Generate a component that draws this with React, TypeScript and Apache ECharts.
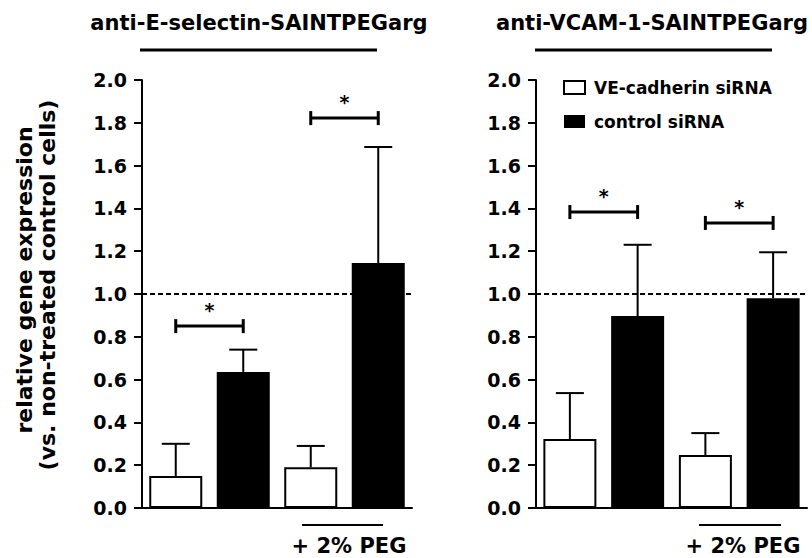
import React, { useEffect, useRef } from "react";
import * as echarts from "echarts";

const categories = ["VE-cadherin", "control", "VE-cadherin + PEG", "control + PEG"];
const seriesNames = ["VE-cadherin siRNA", "control siRNA"];
const titles = ["anti-E-selectin-SAINTPEGarg", "anti-VCAM-1-SAINTPEGarg"];
const yTicks = [0, 0.2, 0.4, 0.6, 0.8, 1.0, 1.2, 1.4, 1.6, 1.8, 2.0];
const yAxisName = ["relative gene expression", "(vs. non-treated control cells)"];
const pegLabel = "+ 2% PEG";

// left panel (anti-E-selectin)
const leftMeans = [0.15, 0.636, 0.19, 1.145];
const leftUpper = [0.30, 0.74, 0.29, 1.687];
const leftBrackets = [
  [0, 1, 0.85],
  [2, 3, 1.822],
];
// right panel (anti-VCAM-1)
const rightMeans = [0.322, 0.897, 0.248, 0.98];
const rightUpper = [0.537, 1.23, 0.35, 1.195];
const rightBrackets = [
  [0, 1, 1.383],
  [2, 3, 1.332],
];
const referenceLevel = 1.0;

const FONT = "DejaVu Sans";

function pick(arr: number[], idx: number[]) {
  return arr.map((v, i) => (idx.includes(i) ? v : null));
}

function errorSeries(axis: number, means: number[], upper: number[]) {
  return {
    type: "custom",
    xAxisIndex: axis,
    yAxisIndex: axis,
    z: 5,
    silent: true,
    data: means.map((m, i) => [i, m, upper[i]]),
    renderItem: (params: any, api: any) => {
      const x = api.value(0);
      const p0 = api.coord([x, api.value(1)]);
      const p1 = api.coord([x, api.value(2)]);
      const half = 14;
      return {
        type: "group",
        children: [
          { type: "line", shape: { x1: p0[0], y1: p0[1], x2: p1[0], y2: p1[1] }, style: { stroke: "#000", lineWidth: 2 } },
          { type: "line", shape: { x1: p1[0] - half, y1: p1[1], x2: p1[0] + half, y2: p1[1] }, style: { stroke: "#000", lineWidth: 2 } },
        ],
      };
    },
  };
}

function bracketSeries(axis: number, brackets: number[][]) {
  return {
    type: "custom",
    xAxisIndex: axis,
    yAxisIndex: axis,
    z: 6,
    silent: true,
    data: brackets,
    renderItem: (params: any, api: any) => {
      const a = api.coord([api.value(0), api.value(2)]);
      const b = api.coord([api.value(1), api.value(2)]);
      const y = a[1];
      return {
        type: "group",
        children: [
          { type: "line", shape: { x1: a[0], y1: y, x2: b[0], y2: y }, style: { stroke: "#000", lineWidth: 3 } },
          { type: "line", shape: { x1: a[0], y1: y - 7, x2: a[0], y2: y + 7 }, style: { stroke: "#000", lineWidth: 3 } },
          { type: "line", shape: { x1: b[0], y1: y - 7, x2: b[0], y2: y + 7 }, style: { stroke: "#000", lineWidth: 3 } },
          {
            type: "text",
            x: (a[0] + b[0]) / 2,
            y: y - 16,
            style: { text: "*", fill: "#000", font: `bold 19px '${FONT}'`, align: "center", verticalAlign: "middle" },
          },
        ],
      };
    },
  };
}

function barSeries(axis: number, means: number[]) {
  return [
    {
      name: seriesNames[0],
      type: "bar",
      xAxisIndex: axis,
      yAxisIndex: axis,
      barWidth: 53,
      barGap: "-100%",
      z: 3,
      data: pick(means, [0, 2]),
      itemStyle: { color: "#fff", borderColor: "#000", borderWidth: 2 },
    },
    {
      name: seriesNames[1],
      type: "bar",
      xAxisIndex: axis,
      yAxisIndex: axis,
      barWidth: 53,
      barGap: "-100%",
      z: 3,
      data: pick(means, [1, 3]),
      itemStyle: { color: "#000", borderColor: "#000", borderWidth: 0 },
      markLine: {
        silent: true,
        symbol: "none",
        z: 1,
        label: { show: false },
        lineStyle: { color: "#000", type: [5, 3], width: 2 },
        data: [{ yAxis: referenceLevel }],
      },
    },
  ];
}

export default function App() {
  const ref = useRef<HTMLDivElement>(null);
  useEffect(() => {
    document.body.style.margin = "0";
    if (!ref.current) return;
    const chart = echarts.init(ref.current, undefined, { renderer: "svg" });
    const grids = [
      { left: 142, top: 80, width: 270, height: 428 },
      { left: 536, top: 80, width: 271, height: 428 },
    ];
    const xAxis = grids.map((_, i) => ({
      type: "category",
      gridIndex: i,
      data: categories,
      axisLine: { lineStyle: { color: "#000", width: 2 } },
      axisTick: { show: false },
      axisLabel: { show: false },
    }));
    const yAxis = grids.map((_, i) => ({
      type: "value",
      gridIndex: i,
      min: yTicks[0],
      max: yTicks[yTicks.length - 1],
      interval: 0.2,
      axisLine: { show: true, lineStyle: { color: "#000", width: 2 } },
      axisTick: { show: true, length: 8, lineStyle: { color: "#000", width: 2 } },
      splitLine: { show: false },
      axisLabel: {
        color: "#000",
        fontFamily: FONT,
        fontWeight: "bold",
        fontSize: 19,
        margin: 15,
        formatter: (v: number) => v.toFixed(1),
      },
    }));
    const txt = (text: string, x: number, y: number, size: number, rotation = 0) => ({
      type: "text",
      x,
      y,
      rotation,
      style: { text, font: `bold ${size}px '${FONT}'`, fill: "#000", align: "center", verticalAlign: "middle" },
    });
    const hline = (x1: number, x2: number, y: number, w: number) => ({
      type: "line",
      shape: { x1, y1: y, x2, y2: y },
      style: { stroke: "#000", lineWidth: w },
    });
    chart.setOption({
      animation: false,
      backgroundColor: "#fff",
      textStyle: { fontFamily: FONT },
      grid: grids,
      xAxis,
      yAxis,
      legend: {
        orient: "vertical",
        left: 563,
        top: 79,
        padding: 0,
        itemWidth: 21,
        itemHeight: 13,
        itemGap: 17,
        icon: "rect",
        textStyle: { fontFamily: FONT, fontWeight: "bold", fontSize: 17, lineHeight: 17, color: "#000", padding: [0, 0, 0, 4] },
        data: seriesNames,
      },
      graphic: [
        txt(titles[0], 259, 23, 21),
        txt(titles[1], 652, 23, 21),
        hline(140, 377, 50, 3),
        hline(535, 772, 50, 3),
        hline(135, 142, 508, 2),
        hline(529, 536, 508, 2),
        hline(302, 383, 525, 2),
        hline(699, 781, 525, 2),
        txt(pegLabel, 349, 546, 21),
        txt(pegLabel, 743, 546, 21),
        txt(yAxisName[0], 24, 280, 22, Math.PI / 2),
        txt(yAxisName[1], 47, 285, 22, Math.PI / 2),
      ],
      series: [
        ...barSeries(0, leftMeans),
        ...barSeries(1, rightMeans),
        errorSeries(0, leftMeans, leftUpper),
        errorSeries(1, rightMeans, rightUpper),
        bracketSeries(0, leftBrackets),
        bracketSeries(1, rightBrackets),
      ],
    });
    return () => chart.dispose();
  }, []);
  return <div ref={ref} style={{ width: 812, height: 558 }} />;
}
